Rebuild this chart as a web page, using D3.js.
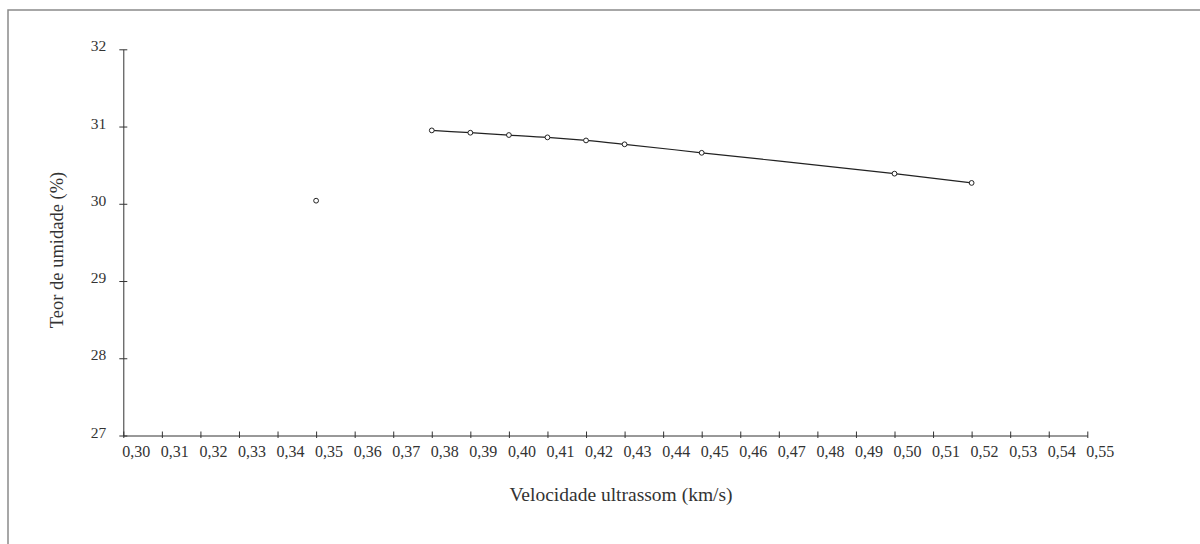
<!DOCTYPE html>
<html>
<head>
<meta charset="utf-8">
<script src="https://cdn.jsdelivr.net/npm/d3@7"></script>
<style>
  body { margin: 0; background: #fff; }
  text { font-family: "Liberation Serif", "Times New Roman", serif; fill: #333; }
</style>
</head>
<body>
<div id="chart"></div>
<script>
// fitted curve points
var velocidade = [0.38, 0.39, 0.40, 0.41, 0.42, 0.43, 0.45, 0.50, 0.52];
var teor = [30.95, 30.92, 30.89, 30.86, 30.82, 30.77, 30.66, 30.39, 30.27];
// isolated point
var velocidadeIsolado = [0.35];
var teorIsolado = [30.04];

var xTicks = d3.range(30, 56).map(function(d){ return d / 100; });
var yTicks = [27, 28, 29, 30, 31, 32];

var svg = d3.select("#chart").append("svg").attr("width", 1200).attr("height", 544);

// outer frame
svg.append("rect").attr("x", 8).attr("y", 10).attr("width", 1300).attr("height", 700)
  .attr("fill", "none").attr("stroke", "#8a8a8a").attr("stroke-width", 1.5);

var x = d3.scaleLinear().domain([0.30, 0.55]).range([123.3, 1087.3]);
var y = d3.scaleLinear().domain([27, 32]).range([435.5, 49.3]);

var fmt = function(d){ return d3.format(".2f")(d).replace(".", ","); };

var gx = svg.append("g").attr("transform", "translate(0,435.5)")
  .call(d3.axisBottom(x).tickValues(xTicks).tickFormat(fmt).tickSizeOuter(0));
gx.select(".domain").attr("stroke", "#333");
gx.selectAll(".tick line").attr("y1", -4).attr("y2", 2.5).attr("stroke", "#333");
gx.selectAll(".tick text").attr("text-anchor", "start").attr("x", -1.5).attr("y", 10)
  .style("font-size", "16px").style("font-family", "'Liberation Serif', serif").attr("fill", "#333");

var gy = svg.append("g").attr("transform", "translate(123.3,0)")
  .call(d3.axisLeft(y).tickValues(yTicks).tickFormat(d3.format("d")).tickSizeOuter(0));
gy.select(".domain").attr("stroke", "#333");
gy.selectAll(".tick line").attr("x1", -4).attr("x2", 4).attr("stroke", "#333");
gy.selectAll(".tick text").attr("x", -17).attr("dy", "0.1em")
  .style("font-size", "15.5px").style("font-family", "'Liberation Serif', serif").attr("fill", "#333");

// curve
var pts = velocidade.map(function(v, i){ return [v, teor[i]]; });
var line = d3.line().x(function(d){ return x(d[0]); }).y(function(d){ return y(d[1]); })
  .curve(d3.curveMonotoneX);
svg.append("path").datum(pts).attr("d", line)
  .attr("fill", "none").attr("stroke", "#222").attr("stroke-width", 1.2);

var allPts = pts.concat(velocidadeIsolado.map(function(v, i){ return [v, teorIsolado[i]]; }));
svg.selectAll("circle.pt").data(allPts).enter().append("circle")
  .attr("class", "pt")
  .attr("cx", function(d){ return x(d[0]); })
  .attr("cy", function(d){ return y(d[1]); })
  .attr("r", 2.4)
  .attr("fill", "#fff").attr("stroke", "#222").attr("stroke-width", 1);

// axis titles
svg.append("text").attr("x", 621).attr("y", 501).attr("text-anchor", "middle")
  .style("font-size", "19.5px").text("Velocidade ultrassom (km/s)");
svg.append("text").attr("transform", "translate(63,250) rotate(-90)").attr("text-anchor", "middle")
  .style("font-size", "18.5px").text("Teor de umidade (%)");
</script>
</body>
</html>
